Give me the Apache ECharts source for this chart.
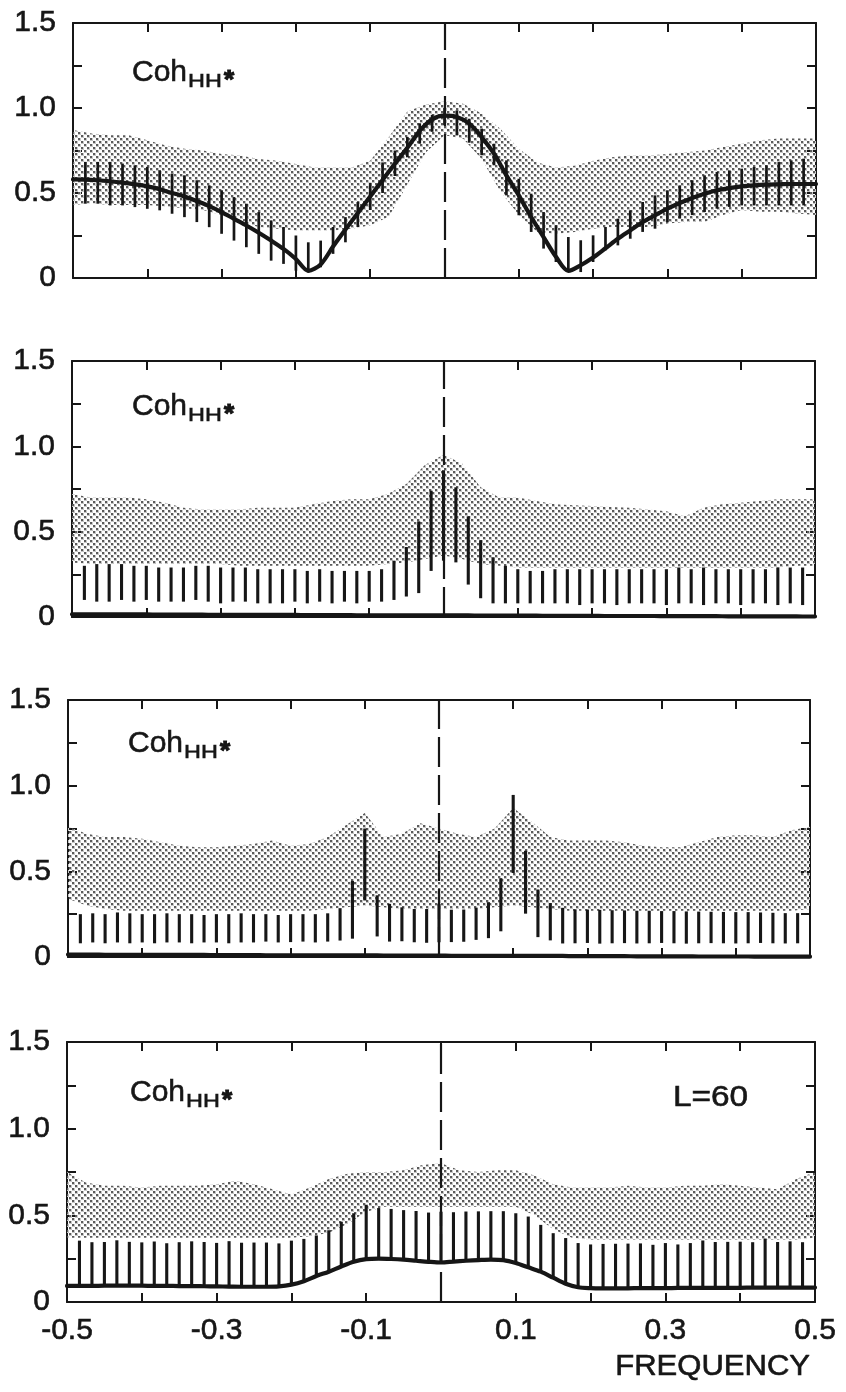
<!DOCTYPE html>
<html>
<head>
<meta charset="utf-8">
<script src="https://cdn.jsdelivr.net/npm/echarts/dist/echarts.min.js"></script>
<style>
html,body{margin:0;padding:0;background:#ffffff;}
#chart{width:846px;height:1392px;}
</style>
</head>
<body>
<div id="chart"></div>
<script>
// ---------------- data ----------------
// frequencies k/60 (L = 60), k = -30..30
const FREQ = Array.from({length: 61}, (_, i) => (i - 30) / 60);
// error-bar frequencies, k = -29..29
const BAR_FREQ = FREQ.slice(1, 60);
// stipple band sample frequencies, step 0.025
const BAND_FREQ = Array.from({length: 41}, (_, i) => -0.5 + i * 0.025);

const X_LABEL_VALUES = [-0.5, -0.3, -0.1, 0.1, 0.3, 0.5];
const X_LABEL_TEXT = ['-0.5', '-0.3', '-0.1', '0.1', '0.3', '0.5'];
const Y_LABEL_VALUES = [0, 0.5, 1.0, 1.5];
const Y_LABEL_TEXT = ['0', '0.5', '1.0', '1.5'];

// ---- panel 1 ----
const coh1 = [0.58, 0.579, 0.575, 0.569, 0.561, 0.551, 0.539, 0.522, 0.5, 0.48, 0.453, 0.423, 0.388, 0.348, 0.309, 0.266, 0.22, 0.171, 0.112, 0.042, 0.08, 0.185, 0.285, 0.382, 0.48, 0.577, 0.673, 0.766, 0.865, 0.933, 0.955,
  0.947, 0.908, 0.829, 0.731, 0.604, 0.486, 0.359, 0.241, 0.125, 0.042, 0.075, 0.12, 0.175, 0.231, 0.28, 0.329, 0.369, 0.408, 0.441, 0.471, 0.496, 0.516, 0.529, 0.539, 0.545, 0.549, 0.551, 0.553, 0.553, 0.553];
const barHi1 = [0.683, 0.683, 0.683, 0.673, 0.663, 0.654, 0.634, 0.614, 0.604, 0.575, 0.545, 0.516, 0.476, 0.437, 0.388, 0.339, 0.3, 0.25, 0.21, 0.22, 0.3, 0.358, 0.447, 0.56, 0.68, 0.75, 0.83, 0.91, 0.96,
  1.0,
  0.986, 0.937, 0.878, 0.79, 0.692, 0.584, 0.496, 0.388, 0.31, 0.241, 0.222, 0.251, 0.3, 0.349, 0.398, 0.447, 0.486, 0.516, 0.545, 0.575, 0.604, 0.624, 0.633, 0.643, 0.653, 0.663, 0.682, 0.692, 0.702];
const barLo1 = [0.437, 0.437, 0.427, 0.427, 0.417, 0.407, 0.398, 0.378, 0.358, 0.329, 0.299, 0.26, 0.22, 0.181, 0.142, 0.102, 0.083, 0.043, 0.033, 0.063, 0.142, 0.21, 0.3, 0.4, 0.5, 0.6, 0.71, 0.79, 0.86,
  0.9,
  0.839, 0.796, 0.722, 0.663, 0.486, 0.369, 0.271, 0.173, 0.094, 0.035, 0.035, 0.094, 0.163, 0.192, 0.231, 0.271, 0.29, 0.329, 0.35, 0.37, 0.388, 0.408, 0.418, 0.427, 0.427, 0.427, 0.427, 0.427, 0.427];
const bandHi1 = [0.87, 0.85, 0.84, 0.84, 0.81, 0.78, 0.76, 0.75, 0.73, 0.72, 0.70, 0.69, 0.67, 0.65, 0.65, 0.65, 0.69, 0.83, 0.98, 1.02, 1.04,
  1.025, 0.967, 0.878, 0.76, 0.68, 0.65, 0.66, 0.69, 0.71, 0.72, 0.72, 0.73, 0.74, 0.75, 0.77, 0.79, 0.81, 0.82, 0.82, 0.82];
const bandLo1 = [0.43, 0.44, 0.43, 0.43, 0.43, 0.42, 0.41, 0.40, 0.37, 0.33, 0.30, 0.29, 0.28, 0.28, 0.28, 0.29, 0.31, 0.36, 0.55, 0.74, 0.84,
  0.82, 0.70, 0.51, 0.37, 0.27, 0.26, 0.27, 0.29, 0.30, 0.30, 0.30, 0.32, 0.33, 0.33, 0.37, 0.40, 0.39, 0.39, 0.38, 0.37];

// ---- panel 2 ----
const coh2 = [0.016, 0.016, 0.016, 0.015, 0.015, 0.015, 0.015, 0.014, 0.014, 0.014, 0.014, 0.013, 0.013, 0.013, 0.013, 0.012, 0.012, 0.012, 0.012, 0.011, 0.011, 0.011, 0.011, 0.010, 0.010, 0.010, 0.010, 0.010, 0.009, 0.009, 0.009,
  0.009, 0.009, 0.008, 0.008, 0.008, 0.008, 0.008, 0.007, 0.007, 0.007, 0.007, 0.007, 0.006, 0.006, 0.006, 0.006, 0.006, 0.005, 0.005, 0.005, 0.005, 0.005, 0.004, 0.004, 0.004, 0.004, 0.004, 0.004, 0.003, 0.003];
const barHi2 = [0.30, 0.31, 0.31, 0.31, 0.30, 0.30, 0.29, 0.29, 0.29, 0.30, 0.30, 0.29, 0.29, 0.29, 0.28, 0.28, 0.28, 0.28, 0.27, 0.28, 0.27, 0.27, 0.27, 0.27, 0.28, 0.33, 0.41, 0.56, 0.74,
  0.86,
  0.76, 0.59, 0.45, 0.35, 0.30, 0.28, 0.27, 0.27, 0.28, 0.28, 0.28, 0.28, 0.28, 0.28, 0.28, 0.28, 0.28, 0.28, 0.29, 0.28, 0.29, 0.28, 0.28, 0.28, 0.28, 0.28, 0.29, 0.29, 0.29];
const barLo2 = [0.10, 0.09, 0.09, 0.10, 0.09, 0.10, 0.09, 0.09, 0.09, 0.10, 0.09, 0.08, 0.09, 0.09, 0.08, 0.08, 0.08, 0.09, 0.08, 0.09, 0.08, 0.09, 0.08, 0.09, 0.09, 0.10, 0.12, 0.14, 0.27,
  0.33,
  0.32, 0.19, 0.11, 0.08, 0.08, 0.08, 0.08, 0.08, 0.08, 0.08, 0.07, 0.08, 0.08, 0.07, 0.08, 0.08, 0.08, 0.07, 0.08, 0.08, 0.07, 0.08, 0.08, 0.07, 0.08, 0.08, 0.07, 0.08, 0.07];
const bandHi2 = [0.72, 0.70, 0.70, 0.70, 0.69, 0.67, 0.64, 0.63, 0.63, 0.63, 0.64, 0.64, 0.64, 0.66, 0.68, 0.69, 0.69, 0.72, 0.78, 0.89, 0.95,
  0.90, 0.76, 0.70, 0.70, 0.68, 0.66, 0.655, 0.65, 0.645, 0.64, 0.63, 0.62, 0.59, 0.64, 0.66, 0.67, 0.68, 0.69, 0.69, 0.69];
const bandLo2 = [0.32, 0.31, 0.31, 0.31, 0.31, 0.31, 0.31, 0.31, 0.31, 0.30, 0.30, 0.30, 0.30, 0.30, 0.30, 0.30, 0.30, 0.31, 0.32, 0.34, 0.36,
  0.34, 0.31, 0.30, 0.29, 0.29, 0.29, 0.29, 0.29, 0.29, 0.29, 0.29, 0.29, 0.29, 0.29, 0.29, 0.29, 0.29, 0.29, 0.30, 0.30];

// ---- panel 3 ----
const coh3 = [0.014, 0.014, 0.014, 0.013, 0.013, 0.013, 0.013, 0.013, 0.012, 0.012, 0.012, 0.012, 0.011, 0.011, 0.011, 0.011, 0.010, 0.010, 0.010, 0.010, 0.010, 0.009, 0.009, 0.009, 0.009, 0.009, 0.008, 0.008, 0.008, 0.008, 0.008,
  0.007, 0.007, 0.007, 0.007, 0.007, 0.006, 0.006, 0.006, 0.006, 0.006, 0.005, 0.005, 0.005, 0.005, 0.005, 0.004, 0.004, 0.004, 0.004, 0.004, 0.003, 0.003, 0.003, 0.003, 0.003, 0.002, 0.002, 0.002, 0.002, 0.002];
const barHi3 = [0.25, 0.255, 0.25, 0.26, 0.255, 0.25, 0.25, 0.255, 0.25, 0.25, 0.245, 0.25, 0.25, 0.255, 0.25, 0.25, 0.245, 0.25, 0.25, 0.25, 0.255,
  0.285, 0.444, 0.75, 0.36, 0.31, 0.29, 0.28, 0.28,
  0.31,
  0.276, 0.277, 0.288, 0.32, 0.46, 0.946, 0.62, 0.394, 0.315, 0.287,
  0.278, 0.277, 0.275, 0.273, 0.272, 0.27, 0.27, 0.268, 0.268, 0.266, 0.265, 0.264, 0.263, 0.262, 0.262, 0.26, 0.258, 0.256, 0.256];
const barLo3 = [0.08, 0.085, 0.08, 0.085, 0.08, 0.085, 0.08, 0.085, 0.085, 0.08, 0.085, 0.085, 0.08, 0.085, 0.085, 0.09, 0.085, 0.087, 0.09, 0.085, 0.09,
  0.096, 0.107, 0.33, 0.12, 0.09, 0.092, 0.086, 0.083,
  0.086,
  0.087, 0.089, 0.1, 0.11, 0.15, 0.49, 0.253, 0.116, 0.097, 0.079,
  0.08, 0.082, 0.078, 0.08, 0.081, 0.079, 0.08, 0.082, 0.08, 0.078, 0.08, 0.081, 0.08, 0.079, 0.08, 0.082, 0.08, 0.079, 0.08];
const bandHi3 = [0.76, 0.72, 0.70, 0.70, 0.69, 0.67, 0.65, 0.64, 0.64, 0.65, 0.66, 0.68, 0.65, 0.66, 0.70, 0.77, 0.84, 0.70, 0.72, 0.78, 0.75,
  0.72, 0.70, 0.75, 0.87, 0.79, 0.70, 0.68, 0.68, 0.68, 0.67, 0.65, 0.64, 0.64, 0.67, 0.70, 0.71, 0.71, 0.70, 0.74, 0.76];
const bandLo3 = [0.34, 0.30, 0.28, 0.27, 0.27, 0.27, 0.27, 0.27, 0.27, 0.27, 0.27, 0.27, 0.27, 0.27, 0.28, 0.29, 0.30, 0.29, 0.28, 0.28, 0.28,
  0.28, 0.28, 0.29, 0.30, 0.29, 0.28, 0.27, 0.27, 0.27, 0.27, 0.27, 0.27, 0.27, 0.27, 0.27, 0.27, 0.27, 0.27, 0.27, 0.28];

// ---- panel 4 ----
const coh4 = [0.093, 0.093, 0.093, 0.094, 0.094, 0.094, 0.094, 0.093, 0.093, 0.092, 0.092, 0.091, 0.09, 0.089, 0.088, 0.088, 0.088, 0.09,
  0.1, 0.12, 0.15, 0.175, 0.205, 0.232, 0.247, 0.25, 0.248, 0.244, 0.238, 0.232, 0.228,
  0.233, 0.238, 0.242, 0.245, 0.242, 0.225, 0.2, 0.175, 0.14, 0.105, 0.085, 0.08,
  0.079, 0.079, 0.079, 0.08, 0.08, 0.08, 0.081, 0.081, 0.081, 0.082, 0.082, 0.082, 0.083, 0.083, 0.083, 0.083, 0.083, 0.083];
const barHi4 = [0.354, 0.345, 0.346, 0.356, 0.347, 0.344, 0.349, 0.339, 0.345, 0.35, 0.346, 0.341, 0.351, 0.342, 0.343, 0.343, 0.338,
  0.354, 0.364, 0.384, 0.414, 0.463, 0.512, 0.561, 0.542, 0.537, 0.53, 0.525, 0.516,
  0.521,
  0.518, 0.522, 0.523, 0.524, 0.524, 0.512, 0.493, 0.445, 0.397, 0.369, 0.34, 0.332,
  0.335, 0.336, 0.337, 0.338, 0.33, 0.34, 0.332, 0.34, 0.355, 0.346, 0.347, 0.348, 0.345, 0.366, 0.346, 0.35, 0.345];
const barLo4 = coh4.slice(1, 60); // bars rise from the estimate curve
const bandHi4 = [0.75, 0.69, 0.67, 0.67, 0.66, 0.67, 0.67, 0.67, 0.68, 0.70, 0.68, 0.65, 0.62, 0.66, 0.71, 0.74, 0.75, 0.75, 0.76, 0.79, 0.80,
  0.76, 0.75, 0.76, 0.76, 0.73, 0.68, 0.66, 0.66, 0.66, 0.67, 0.66, 0.66, 0.67, 0.67, 0.68, 0.67, 0.66, 0.65, 0.71, 0.75];
const bandLo4 = [0.37, 0.37, 0.37, 0.37, 0.37, 0.37, 0.37, 0.37, 0.37, 0.37, 0.37, 0.37, 0.37, 0.38, 0.40, 0.45, 0.52, 0.55, 0.55, 0.55, 0.55,
  0.55, 0.55, 0.55, 0.55, 0.50, 0.42, 0.37, 0.36, 0.36, 0.36, 0.36, 0.36, 0.36, 0.36, 0.36, 0.36, 0.36, 0.36, 0.36, 0.37];

// ---------------- drawing ----------------
const INK = '#161616';
const FONT = '"Liberation Sans", Arial, Helvetica, sans-serif';

function makeStipple() {
  const c = document.createElement('canvas');
  c.width = 6; c.height = 6;
  const g = c.getContext('2d');
  // soft halo
  g.fillStyle = '#c6c6c6';
  g.fillRect(0, 0, 3, 3);
  g.fillRect(3, 3, 3, 3);
  // dark core
  g.fillStyle = '#5a5a5a';
  g.fillRect(0, 0, 2, 2);
  g.fillRect(3, 3, 2, 2);
  return c;
}
const STIPPLE = makeStipple();

const PANELS = [
  {coh: coh1, hi: barHi1, lo: barLo1, bHi: bandHi1, bLo: bandLo1, grid: {left: 73, top: 23, width: 743, height: 255}, barW: 2.7, label: [132, 62]},
  {coh: coh2, hi: barHi2, lo: barLo2, bHi: bandHi2, bLo: bandLo2, grid: {left: 72, top: 361, width: 743, height: 256}, barW: 3.1, label: [132, 396]},
  {coh: coh3, hi: barHi3, lo: barLo3, bHi: bandHi3, bLo: bandLo3, grid: {left: 68, top: 700, width: 742, height: 257}, barW: 3.1, label: [128, 733]},
  {coh: coh4, hi: barHi4, lo: barLo4, bHi: bandHi4, bLo: bandLo4, grid: {left: 67, top: 1042, width: 748, height: 260}, barW: 3.1, label: [130, 1082]}
];

function xLabel(v) {
  for (let i = 0; i < X_LABEL_VALUES.length; i++) if (Math.abs(v - X_LABEL_VALUES[i]) < 1e-6) return X_LABEL_TEXT[i];
  return '';
}
function yLabel(v) {
  for (let i = 0; i < Y_LABEL_VALUES.length; i++) if (Math.abs(v - Y_LABEL_VALUES[i]) < 1e-6) return Y_LABEL_TEXT[i];
  return '';
}

const axisLine = {show: true, onZero: false, lineStyle: {color: INK, width: 2}};
const axisTick = {show: true, inside: true, length: 9, lineStyle: {color: INK, width: 2}};
const labelCommon = {show: true, color: INK, fontSize: 30, fontFamily: FONT, textBorderColor: INK, textBorderWidth: 0.6};

const grids = [], xAxes = [], yAxes = [], series = [], graphics = [];

function bandRender(rows) {
  return function (params, api) {
    if (params.dataIndex !== 0) return null;
    const pts = [];
    for (let i = 0; i < rows.length; i++) pts.push(api.coord([rows[i][0], rows[i][2]]));
    for (let i = rows.length - 1; i >= 0; i--) pts.push(api.coord([rows[i][0], rows[i][1]]));
    return {type: 'polygon', shape: {points: pts}, style: {fill: {image: STIPPLE, repeat: 'repeat'}, stroke: null}};
  };
}
function barRender(w) {
  return function (params, api) {
    const x = api.value(0);
    const p1 = api.coord([x, api.value(1)]);
    const p2 = api.coord([x, api.value(2)]);
    return {type: 'line', shape: {x1: p1[0], y1: p1[1], x2: p2[0], y2: p2[1]}, style: {stroke: INK, lineWidth: w, lineCap: 'butt'}};
  };
}
function txt(x, y, text, size, align, scaleX, weight, strokeW) {
  return {
    type: 'text', x: x, y: y, scaleX: scaleX || 1, z: 50,
    style: {text: text, font: (weight || 'normal') + ' ' + size + 'px ' + FONT, fill: INK,
      stroke: INK, lineWidth: strokeW === undefined ? 0.6 : strokeW,
      align: align, verticalAlign: 'middle', textAlign: align, textVerticalAlign: 'middle'}
  };
}

PANELS.forEach(function (p, i) {
  grids.push(Object.assign({outerBoundsMode: 'none', containLabel: false}, p.grid));
  const isLast = i === PANELS.length - 1;
  const xBase = {type: 'value', gridIndex: i, min: -0.5, max: 0.5, interval: 0.1, splitLine: {show: false}, axisLine: axisLine, axisTick: axisTick};
  xAxes.push(Object.assign({}, xBase, {position: 'bottom',
    axisLabel: isLast ? Object.assign({margin: 14, formatter: xLabel}, labelCommon) : {show: false}}));
  xAxes.push(Object.assign({}, xBase, {position: 'top', axisLabel: {show: false}}));
  const yBase = {type: 'value', gridIndex: i, min: 0, max: 1.5, interval: 0.25, splitLine: {show: false}, axisLine: axisLine, axisTick: axisTick};
  yAxes.push(Object.assign({}, yBase, {position: 'left',
    axisLabel: Object.assign({margin: 17, formatter: yLabel}, labelCommon)}));
  yAxes.push(Object.assign({}, yBase, {position: 'right', axisLabel: {show: false}}));

  const xi = 2 * i, yi = 2 * i;
  const bandRows = BAND_FREQ.map((f, j) => [f, p.bLo[j], p.bHi[j]]);
  series.push({type: 'custom', xAxisIndex: xi, yAxisIndex: yi, z: 1, silent: true,
    renderItem: bandRender(bandRows), data: bandRows, encode: {x: 0, y: [1, 2]}});
  const barRows = BAR_FREQ.map((f, j) => [f, p.lo[j], p.hi[j]]);
  series.push({type: 'custom', xAxisIndex: xi, yAxisIndex: yi, z: 3, silent: true,
    renderItem: barRender(p.barW), data: barRows, encode: {x: 0, y: [1, 2]}});
  series.push({type: 'line', xAxisIndex: xi, yAxisIndex: yi, z: 4, silent: true,
    data: FREQ.map((f, j) => [f, p.coh[j]]), smooth: 0.3, showSymbol: false, symbol: 'none',
    lineStyle: {color: INK, width: 4.2, cap: 'round', join: 'round'},
    markLine: {silent: true, symbol: ['none', 'none'], label: {show: false}, animation: false,
      lineStyle: {type: [30, 8], color: INK, width: 2.2}, emphasis: {disabled: true},
      data: [{xAxis: 0}]}});

  const cx = p.label[0], ct = p.label[1];
  graphics.push(txt(cx, ct + 10.5, 'Coh', 30, 'left'));
  graphics.push(txt(cx + 56, ct + 20.5, 'HH', 18, 'left', 1.3));
  graphics.push(txt(cx + 92, ct + 19, '*', 26, 'left', 1, 'bold', 1.2));
});

graphics.push(txt(673, 1098, 'L=60', 29, 'left', 1.15));
graphics.push(txt(810, 1367, 'FREQUENCY', 29, 'right', 1.07));

const chart = echarts.init(document.getElementById('chart'), null, {renderer: 'canvas'});
chart.setOption({
  animation: false,
  backgroundColor: '#ffffff',
  textStyle: {fontFamily: FONT, color: INK},
  grid: grids,
  xAxis: xAxes,
  yAxis: yAxes,
  series: series,
  graphic: {elements: graphics}
});
</script>
</body>
</html>
